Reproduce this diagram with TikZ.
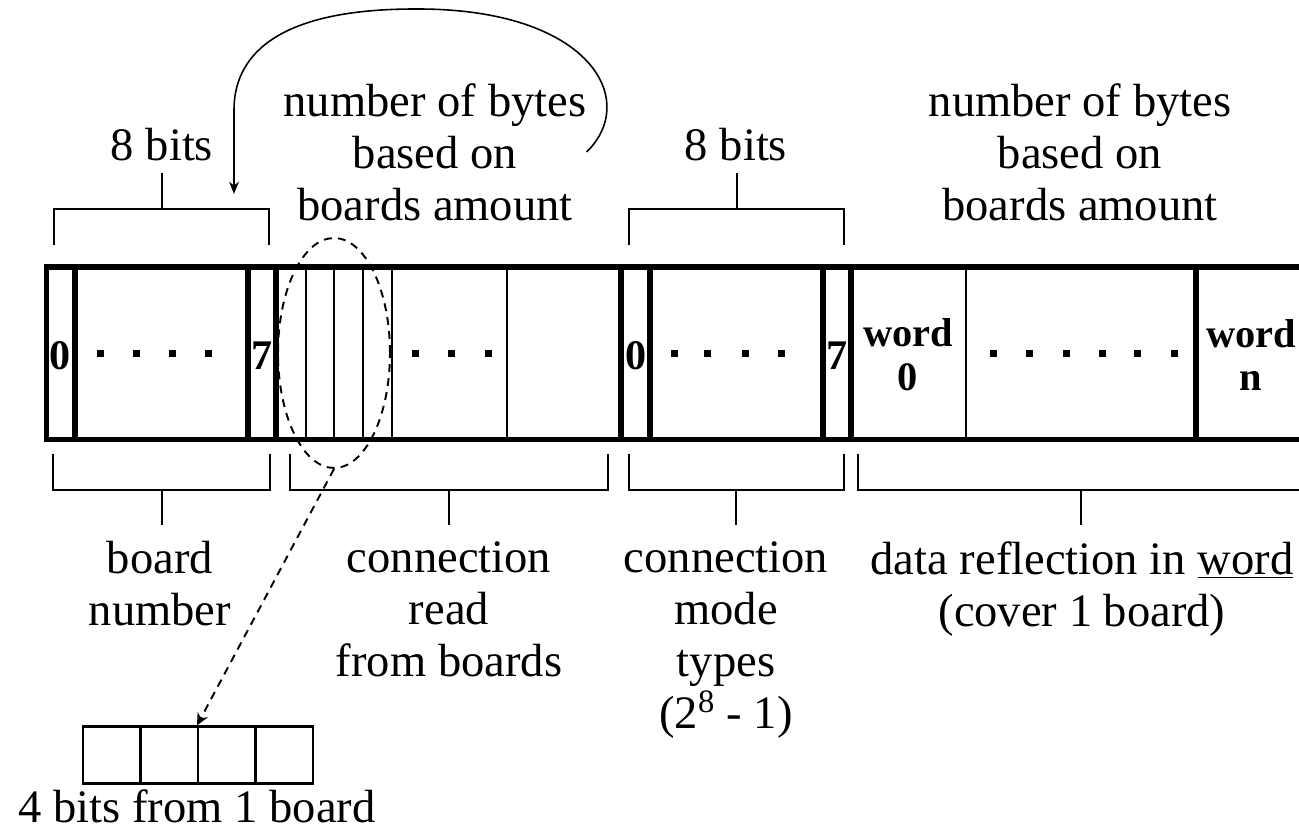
\documentclass[tikz,border=0pt]{standalone}
\usepackage{fontspec}
\setmainfont{Liberation Serif}
\usepackage{tikz}
\usetikzlibrary{shapes.geometric,arrows.meta}

\tikzset{
  lbl/.style={font=\fontsize{26.5}{29.6}\selectfont, inner sep=0pt, align=center},
  bitnum/.style={font=\fontsize{24}{26}\selectfont\bfseries, inner sep=0pt},
  wordcell/.style={font=\fontsize{23}{25}\selectfont\bfseries, inner sep=0pt, align=center},
  frameline/.style={line width=3pt},
  sepline/.style={line width=1pt},
  bracket/.style={line width=1.5pt},
  bitbox/.style={draw, line width=1.2pt, minimum width=1.15cm, minimum height=1.14cm, inner sep=0pt},
}

\begin{document}
\begin{tikzpicture}[x=0.02cm,y=-0.02cm]
        \clip (0,0) rectangle (1299,835);
        \fill[white] (0,0) rectangle (1299,835);
        % top labels
        \node[lbl,anchor=base] (bitsA) at (162,160) {8 bits};
        \node[lbl,anchor=base] (bitsB) at (736,160) {8 bits};
        \node[lbl,anchor=north] (bytesL) at (435,83) {number of bytes\\based on\\boards amount};
        \node[lbl,anchor=north] (bytesR) at (1080,83) {number of bytes\\based on\\boards amount};
        % top brackets
        \foreach \a/\b/\m in {54/269/162, 629/844/737} {
          \draw[bracket] (\a,245) -- (\a,209) -- (\b,209) -- (\b,245);
          \draw[bracket] (\m,209) -- (\m,173);
        }
        % the bar
        \draw[frameline] (1320,267) -- (46.5,267) -- (46.5,439.5) -- (1320,439.5);
        \foreach \x in {75,248,276,621,650,823,851,1196}
          \draw[frameline] (\x,267) -- (\x,439.5);
        \foreach \x in {306,334,363,392,507,966}
          \draw[sepline] (\x,267) -- (\x,439.5);
        % bit numbers and words
        \node[bitnum] (b0) at (60,356) {0};
        \node[bitnum] (b7) at (262,356) {7};
        \node[bitnum] (m0) at (636,356) {0};
        \node[bitnum] (m7) at (837,356) {7};
        \node[wordcell] (w0) at (908,355) {word\\0};
        \node[wordcell] (wn) at (1251,355) {word\\n};
        % dots
        \foreach \x in {100,136,172,208, 415,451,488, 674,707,745,781, 993,1029,1066,1102,1137,1174}
          \fill (\x-3.5,350) rectangle (\x+3.5,357);
        % selection of one board
        \node[draw,ellipse,dashed,line width=1.1pt,dash pattern=on 4.5pt off 3.5pt,
              minimum width=2.24cm,minimum height=4.6cm,inner sep=0pt] (pick) at (334,353) {};
        % bottom brackets
        \foreach \a/\b/\m in {53/270/162, 290/608/449, 629/844/736, 858/1320/1081} {
          \draw[bracket] (\a,454) -- (\a,490) -- (\b,490) -- (\b,454);
          \draw[bracket] (\m,490) -- (\m,525);
        }
        % bottom labels
        \node[lbl,anchor=north] (brdNum) at (160,541) {board\\number};
        \node[lbl,anchor=north] (connRead) at (449,541) {connection\\read\\from boards};
        \node[lbl,anchor=north] (connMode) at (726,541) {connection\\mode\\types\\(2\textsuperscript{8} - 1)};
        \node[lbl,anchor=north] (dataRefl) at (1082,541) {data reflection in \underline{word}\\(cover 1 board)};
        % four bits
        \foreach \i in {0,...,3}
          \node[bitbox] (bit\i) at ({111.75+57.5*\i},755) {};
        \node[lbl,anchor=base] (bitsLbl) at (197,822) {4 bits from 1 board};
        % arrows
        \coordinate (loopEnd) at (234,194);
        \draw[line width=0.9pt,-{Stealth[length=7pt,width=5.5pt]}] (bytesL.east)
          .. controls (640,100) and (590,8) .. (415,9)
          .. controls (270,9) and (234,60) .. (234,110) -- (loopEnd);
        \draw[line width=1.1pt,dash pattern=on 4.5pt off 3.5pt,-{Stealth[length=7pt,width=6.5pt]}]
          (pick.south) -- (bit2.north west);
      \end{tikzpicture}
\end{document}
